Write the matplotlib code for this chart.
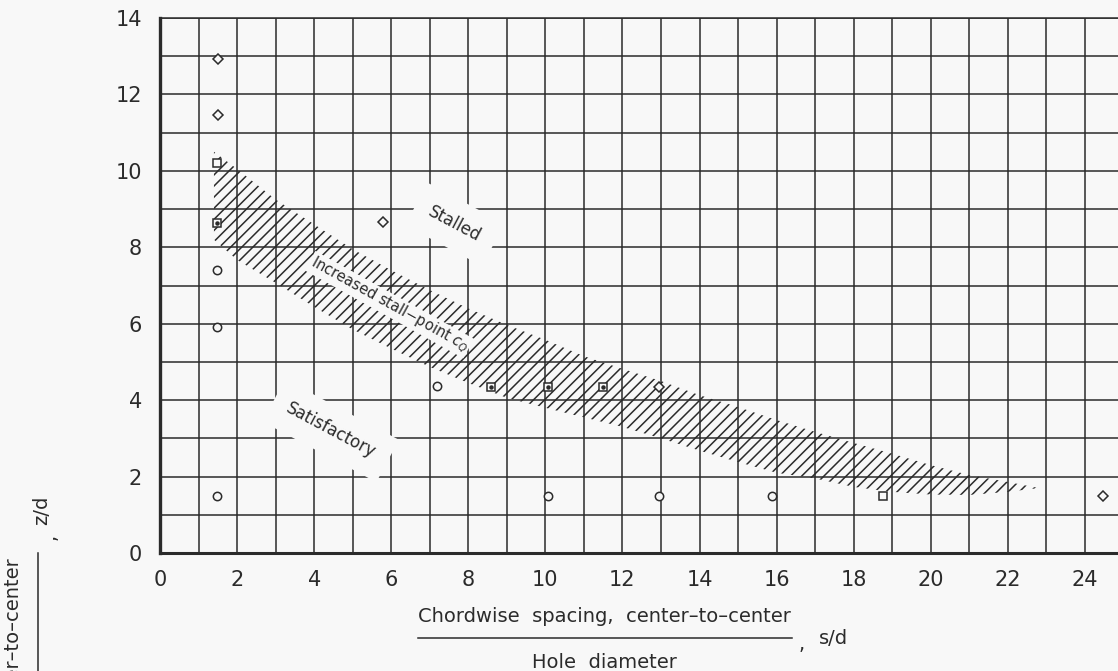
import matplotlib
matplotlib.use("Agg")
import matplotlib.pyplot as plt
from matplotlib.lines import Line2D
from matplotlib.ticker import MultipleLocator

# s/d, z/d
circle_s = [1.47, 1.47, 1.47, 7.2, 10.06, 12.96, 15.87]
circle_z = [7.41, 5.92, 1.49, 4.37, 1.49, 1.49, 1.49]

square_s = [1.47, 18.76]
square_z = [10.2, 1.49]
dotted_square_s = [1.47, 8.59, 10.06, 11.5]
dotted_square_z = [8.63, 4.35, 4.35, 4.35]

diamond_s = [1.5, 1.5, 5.78, 12.96, 24.48]
diamond_z = [12.94, 11.47, 8.67, 4.35, 1.49]

# hatched band "increased stall-point cQ"
band_s = [1.4, 2, 3, 4, 5, 6, 7, 8, 9, 10, 11, 12, 13, 14, 15, 16, 17, 18, 19, 20, 21, 22, 22.8]
band_upper = [10.5, 10.05, 9.25, 8.6, 7.95, 7.4, 6.88, 6.4, 5.97, 5.58, 5.15, 4.82, 4.5,
              4.13, 3.82, 3.48, 3.17, 2.88, 2.6, 2.3, 2.04, 1.86, 1.7]
band_lower = [8.2, 7.67, 7.07, 6.44, 5.85, 5.35, 4.87, 4.45, 4.06, 3.8, 3.55, 3.3, 3.0,
              2.68, 2.38, 2.1, 1.95, 1.73, 1.6, 1.53, 1.52, 1.6, 1.7]

x_ticks = list(range(0, 25, 2))
y_ticks = list(range(0, 15, 2))

ink = "#2b2b2b"
paper = "#f8f8f8"

plt.rcParams["font.family"] = ["DejaVu Sans"]
plt.rcParams["hatch.linewidth"] = 1.1

fig = plt.figure(figsize=(11.18, 6.71), dpi=100, facecolor=paper)
ax = fig.add_axes([160 / 1118, 118 / 671, 958 / 1118, 535 / 671])
ax.set_facecolor(paper)

ax.set_xlim(0, 24.86)
ax.set_ylim(0, 14)
ax.set_xticks(x_ticks)
ax.set_yticks(y_ticks)
ax.xaxis.set_minor_locator(MultipleLocator(1))
ax.yaxis.set_minor_locator(MultipleLocator(1))
ax.grid(which="both", color=ink, linewidth=1.1)
ax.set_axisbelow(True)
ax.tick_params(which="both", length=0, labelsize=15, colors=ink)
ax.tick_params(axis="x", pad=12)
ax.tick_params(axis="y", pad=13)

ax.spines["right"].set_visible(False)
ax.spines["top"].set_linewidth(1.1)
ax.spines["left"].set_linewidth(2.4)
ax.spines["bottom"].set_linewidth(2.2)
for sp in ax.spines.values():
    sp.set_color(ink)

ax.fill_between(band_s, band_lower, band_upper, facecolor="none",
                edgecolor=ink, hatch="///", linewidth=0, zorder=2)

mk = dict(linestyle="none", markerfacecolor=paper, markeredgecolor=ink,
          markeredgewidth=1.1, zorder=4)
ax.plot(circle_s, circle_z, marker="o", markersize=6, **mk)
ax.plot(square_s, square_z, marker="s", markersize=6, **mk)
ax.plot(dotted_square_s, dotted_square_z, marker="s", markersize=6, **mk)
ax.plot(dotted_square_s, dotted_square_z, linestyle="none", marker="o",
        markersize=2.2, color=ink, zorder=5)
ax.plot(diamond_s, diamond_z, marker="D", markersize=5.5, **mk)

box = dict(boxstyle="square,pad=0.9", facecolor=paper, edgecolor="none")
ax.text(7.65, 8.6, "Stalled", rotation=-28, fontsize=12, color=ink,
        ha="center", va="center", bbox=box, zorder=3)
ax.text(4.43, 3.2, "Satisfactory", rotation=-28, fontsize=12, color=ink,
        ha="center", va="center", bbox=box, zorder=3)
ax.text(5.95, 6.5, r"Increased stall$-$point $c_Q$", rotation=-29, fontsize=10.5,
        color=ink, ha="center", va="center",
        bbox=dict(boxstyle="square,pad=0.1", facecolor=paper, edgecolor="none"), zorder=3)

# x label as a fraction
fig.text(604 / 1118, 1 - 622 / 671, "Chordwise  spacing,  center\u2013to\u2013center",
         fontsize=14, color=ink, ha="center", va="baseline")
fig.add_artist(Line2D([418 / 1118, 792 / 1118], [1 - 638 / 671, 1 - 638 / 671],
                      color=ink, linewidth=1.1))
fig.text(604 / 1118, 1 - 668 / 671, "Hole  diameter", fontsize=14, color=ink,
         ha="center", va="baseline")
fig.text(802 / 1118, 1 - 645 / 671, ",", fontsize=14, color=ink, ha="center", va="center")
fig.text(834 / 1118, 1 - 638 / 671, "s/d", fontsize=14, color=ink, ha="center", va="center")

# y label as a fraction (mostly cut off at the bottom edge, as in the original)
fig.text(14 / 1118, 1 - 558 / 671, "Spanwise  spacing,  center\u2013to\u2013center",
         fontsize=14, color=ink, rotation=90, ha="center", va="top")
fig.add_artist(Line2D([38 / 1118, 38 / 1118], [0, 1 - 553 / 671], color=ink, linewidth=1.1))
fig.text(50 / 1118, 1 - 537 / 671, ",", fontsize=14, color=ink, rotation=90,
         ha="center", va="center")
fig.text(42 / 1118, 1 - 510 / 671, "z/d", fontsize=14, color=ink, rotation=90,
         ha="center", va="center")

fig.savefig("out.png", dpi=100, facecolor=paper)
